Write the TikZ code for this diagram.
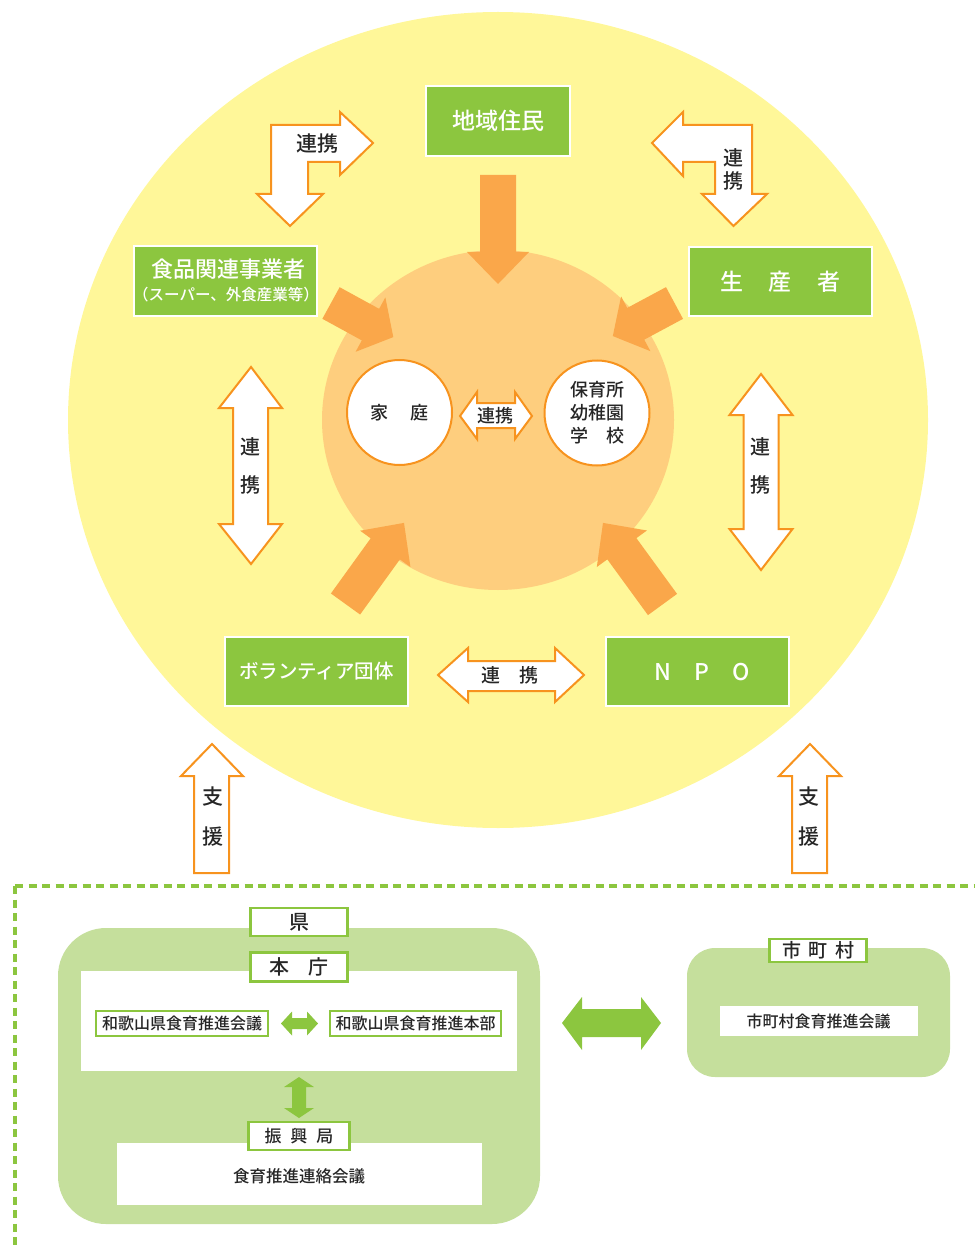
\documentclass[tikz,border=0pt]{standalone}
\usepackage{fontspec}
\setmainfont{Noto Sans CJK JP}[UprightFont=* Medium]
\usetikzlibrary{calc}

\definecolor{bgyellow}{HTML}{FFF799}
\definecolor{coreorange}{HTML}{FECE7E}
\definecolor{arrowfill}{HTML}{FAA74A}
\definecolor{edgeorange}{HTML}{F7931E}
\definecolor{leaf}{HTML}{8CC63F}
\definecolor{paleleaf}{HTML}{C5DF9C}
\definecolor{ink}{HTML}{262626}

% broad orange arrow: tail coordinate, direction (degrees), length, head length
\newcommand\fatarrow[4]{%
  \begin{scope}[shift={(#1)},rotate=#2]
    \fill[arrowfill] (0,-18) -- ({#3-#4},-18) -- ({#3-#4},-31) -- (#3,0)
      -- ({#3-#4},31) -- ({#3-#4},18) -- (0,18) -- cycle;
  \end{scope}}
\newcommand\fsz[2]{\fontsize{#1pt}{#2pt}\selectfont}

\begin{document}
\begin{tikzpicture}[x=1pt,y=-1pt,
  txt/.style={text=ink, inner sep=0pt},
  gbox/.style={draw=white, line width=2pt, fill=leaf, text=white, inner sep=0pt},
  lbox/.style={draw=leaf, line width=2.5pt, fill=white, text=ink, inner sep=0pt},
  outlinearrow/.style={draw=edgeorange, line width=2pt, fill=white, line join=miter},
  greenarrow/.style={fill=leaf},
  circ/.style={circle, draw=edgeorange, line width=2pt, fill=white, text=ink, inner sep=0pt, minimum size=105pt}]

\useasboundingbox (0,0) rectangle (974,1246);

% community and core
\fill[bgyellow] (498,420) ellipse [x radius=430pt, y radius=408pt];
\fill[coreorange] (498,420) ellipse [x radius=176pt, y radius=170pt];

% arrows into the core
\coordinate (tTop) at (498,175);
\coordinate (tUL) at (331,303);
\coordinate (tUR) at (674.5,303);
\coordinate (tLL) at (345.5,604);
\coordinate (tLR) at (662.5,604.5);
\fatarrow{tTop}{-90}{109}{32}
\fatarrow{tUL}{-28.7}{71}{26}
\fatarrow{tUR}{-151.8}{70}{26}
\fatarrow{tLL}{54.2}{100}{32}
\fatarrow{tLR}{126.1}{101}{32}

% home and schools
\node[circ, font=\fsz{18}{22}] (home) at (399.5,412.5) {家\hspace{22pt}庭};
\node[circ, font=\fsz{18}{23}, align=center] (school) at (597,413) {保育所\\幼稚園\\学　校};

% partners
\node[gbox, minimum width=144pt, minimum height=70pt, font=\fsz{23}{27}] (resident) at (498,121) {地域住民};
\node[gbox, minimum width=183pt, minimum height=70pt] (food) at (225.5,281) {};
\node[txt, text=white, font=\fsz{22}{26}] (foodA) at (228,269.5) {食品関連事業者};
\node[txt, text=white, font=\fsz{15.5}{19}] (foodB) at (226,294.5) {（スーパー、外食産業等）};
\node[gbox, minimum width=183pt, minimum height=69pt, font=\fsz{23}{27}] (producer) at (780.5,281.5) {生\hspace{25.5pt}産\hspace{25.5pt}者};
\node[gbox, minimum width=183pt, minimum height=69pt, font=\fsz{19.5}{23}] (volunteer) at (316.5,671.5) {ボランティア団体};
\node[gbox, minimum width=183pt, minimum height=69pt] (npo) at (697.5,671.5) {};
\node[txt, text=white, font=\fsz{23}{27}] (npoT) at (702,672) {N\hspace{23pt}P\hspace{23pt}O};

% cooperation arrows
\draw[outlinearrow] (271,125) -- (340,125) -- (340,112) -- (373,143) -- (340,175)
  -- (340,162) -- (308,162) -- (308,194) -- (323,194) -- (290,226) -- (257,194)
  -- (271,194) -- cycle;
\node[txt, font=\fsz{21}{25}] (lnkA) at (317,144) {連携};

\draw[outlinearrow] (652,143) -- (683,112) -- (683,125) -- (752,125) -- (752,194)
  -- (767,194) -- (733.5,226) -- (702,194) -- (715,194) -- (715,162) -- (683,162)
  -- (683,176) -- cycle;
\node[txt, font=\fsz{20}{23}, align=center] (lnkB) at (733,169.5) {連\\携};

\draw[outlinearrow] (251,367) -- (282,408) -- (268,408) -- (268,524) -- (282,524)
  -- (251,564) -- (219,524) -- (233,524) -- (233,408) -- (219,408) -- cycle;
\node[txt, font=\fsz{20}{38}, align=center] (lnkC) at (250,466) {連\\携};

\draw[outlinearrow] (761,374) -- (792.5,415) -- (778.5,415) -- (778.5,529) -- (792.5,529)
  -- (761,570) -- (729.5,529) -- (743.5,529) -- (743.5,415) -- (729.5,415) -- cycle;
\node[txt, font=\fsz{20}{38}, align=center] (lnkD) at (760,466) {連\\携};

\draw[outlinearrow] (438,675) -- (468,648) -- (468,661) -- (555,661) -- (555,648)
  -- (584,675) -- (555,702) -- (555,691) -- (468,691) -- (468,702) -- cycle;
\node[txt, font=\fsz{19}{23}] (lnkE) at (510,675) {連\hspace{19pt}携};

\draw[outlinearrow] (460,416) -- (477,392) -- (477,403) -- (515,403) -- (515,392)
  -- (532,416) -- (515,439) -- (515,428) -- (477,428) -- (477,439) -- cycle;
\node[txt, font=\fsz{18}{22}] (lnkF) at (495,416) {連携};

% support arrows
\draw[outlinearrow] (212,744) -- (243,776) -- (229,776) -- (229,873) -- (194,873)
  -- (194,776) -- (181,776) -- cycle;
\node[txt, font=\fsz{21}{40}, align=center] (supA) at (212.5,817) {支\\援};
\draw[outlinearrow] (810,744) -- (841,776) -- (827,776) -- (827,873) -- (792,873)
  -- (792,776) -- (779,776) -- cycle;
\node[txt, font=\fsz{21}{40}, align=center] (supB) at (809,817) {支\\援};

% administration
\draw[leaf, line width=3.4pt, dash pattern=on 8pt off 5.5pt] (15,886) -- (974,886);
\draw[leaf, line width=3.4pt, dash pattern=on 8pt off 5.5pt] (15,886) -- (15,1246);

\fill[paleleaf, rounded corners=48pt] (58,928) rectangle (540,1224);
\fill[white] (81,971) rectangle (517,1071);
\fill[white] (117,1143) rectangle (482,1205);
\fill[paleleaf, rounded corners=28pt] (687,948) rectangle (950,1077);
\fill[white] (720,1006) rectangle (918,1036);

\node[lbox, minimum width=97pt, minimum height=28pt, font=\fsz{20}{24}] (pref) at (299,922) {県};
\node[lbox, minimum width=97pt, minimum height=29pt, font=\fsz{20}{24}] (hq) at (299,967) {本\hspace{19pt}庁};
\node[lbox, minimum width=172pt, minimum height=25pt, font=\fsz{16}{20}] (council) at (182,1023.5) {和歌山県食育推進会議};
\node[lbox, minimum width=171pt, minimum height=25pt, font=\fsz{16}{20}] (honbu) at (415.5,1023.5) {和歌山県食育推進本部};
\node[lbox, minimum width=101pt, minimum height=28pt, font=\fsz{17}{21}] (office) at (299,1136) {振\hspace{9pt}興\hspace{9pt}局};
\node[txt, font=\fsz{16.5}{20}] (liaison) at (299,1176.5) {食育推進連絡会議};
\node[lbox, minimum width=97pt, minimum height=23pt, font=\fsz{19}{23}] (town) at (818,950.5) {市\hspace{7.5pt}町\hspace{7.5pt}村};
\node[txt, font=\fsz{16}{20}] (towncouncil) at (818.5,1021.5) {市町村食育推進会議};

\fill[greenarrow] (281,1023.5) -- (292,1011.5) -- (292,1018) -- (307,1018) -- (307,1011.5)
  -- (318,1023.5) -- (307,1035.5) -- (307,1029) -- (292,1029) -- (292,1035.5) -- cycle;
\fill[greenarrow] (299,1077) -- (314,1087) -- (306,1087) -- (306,1108) -- (314,1108)
  -- (299,1118) -- (284,1108) -- (292,1108) -- (292,1087) -- (284,1087) -- cycle;
\fill[greenarrow] (562,1023) -- (582,997) -- (582,1009) -- (641,1009) -- (641,997)
  -- (661,1023) -- (641,1050) -- (641,1037) -- (582,1037) -- (582,1050) -- cycle;
\end{tikzpicture}
\end{document}
